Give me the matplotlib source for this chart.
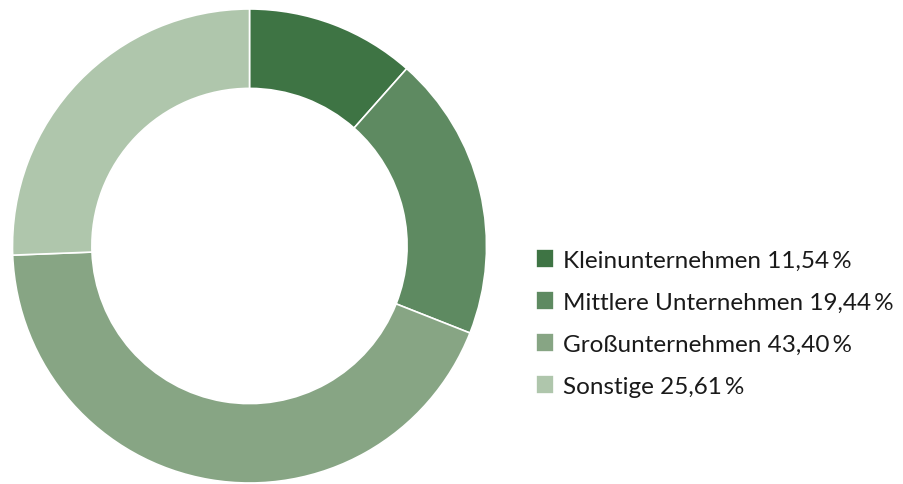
import matplotlib.pyplot as plt

categories = ["Kleinunternehmen", "Mittlere Unternehmen", "Großunternehmen", "Sonstige"]
shares = [11.54, 19.44, 43.40, 25.61]
colors = ["#3e7444", "#5e8a61", "#87a584", "#afc6ac"]

plt.rcParams['font.family'] = ['Lato', 'DejaVu Sans']

fig = plt.figure(figsize=(9.04, 4.85), dpi=100)
ax = fig.add_axes([12 / 904, 1 / 485, 475 / 904, 474 / 485])

wedges, _ = ax.pie(shares, colors=colors, startangle=90, counterclock=False,
                   radius=1, wedgeprops=dict(width=0.335, edgecolor='white', linewidth=1.2))
ax.set_xlim(-1, 1)
ax.set_ylim(-1, 1)
ax.set_aspect('equal')
ax.axis('off')

labels = [f"{c} {v:.2f}".replace('.', ',') + "\u2009%" for c, v in zip(categories, shares)]
fig.legend(wedges, labels, loc='upper left', bbox_to_anchor=(536 / 904, 1 - 250 / 485),
           frameon=False, fontsize=17.5, handlelength=0.72, handleheight=0.8,
           handletextpad=0.4, labelspacing=0.84, borderaxespad=0, borderpad=0,
           labelcolor='#1a1a1a')

fig.savefig("out.png", dpi=100)
